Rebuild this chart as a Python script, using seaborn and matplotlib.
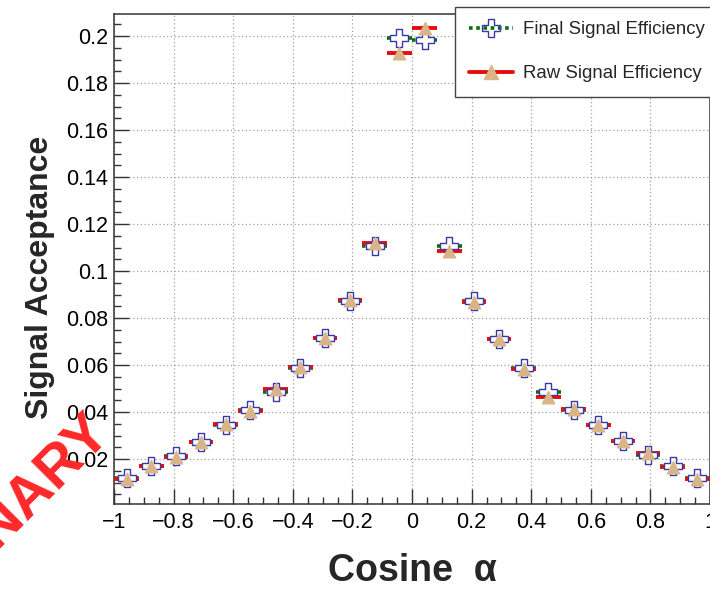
import numpy as np
import pandas as pd
import matplotlib
matplotlib.use("Agg")
import matplotlib.pyplot as plt
from matplotlib.ticker import MultipleLocator, FuncFormatter
from matplotlib.lines import Line2D
import seaborn as sns

# ---------------- data ----------------
cos_alpha = [-0.958, -0.875, -0.792, -0.708, -0.625, -0.542, -0.458, -0.375,
             -0.292, -0.208, -0.125, -0.042, 0.042, 0.125, 0.208, 0.292,
             0.375, 0.458, 0.542, 0.625, 0.708, 0.792, 0.875, 0.958]
final_eff = [0.0119, 0.0172, 0.0214, 0.0272, 0.0345, 0.0409, 0.0484, 0.0589,
             0.0713, 0.0874, 0.1105, 0.1990, 0.1985, 0.1108, 0.0874, 0.0711,
             0.0589, 0.0484, 0.0409, 0.0345, 0.0275, 0.0217, 0.0172, 0.0118]
raw_eff = [0.0114, 0.0172, 0.0207, 0.0271, 0.0348, 0.0404, 0.0497, 0.0593,
           0.0716, 0.0877, 0.1121, 0.1930, 0.2035, 0.1087, 0.0870, 0.0712,
           0.0583, 0.0462, 0.0411, 0.0346, 0.0277, 0.0224, 0.0167, 0.0114]
bin_half_width = 1.0 / 24
series_labels = ["Final Signal Efficiency", "Raw Signal Efficiency"]
x_label = "Cosine  α"
y_label = "Signal Acceptance"
watermark = "PRELIMINARY"

df = pd.DataFrame({"cos": cos_alpha, "final": final_eff, "raw": raw_eff})

# ---------------- style ----------------
sns.set_theme(style="white")
plt.rcParams["font.family"] = ["Liberation Sans", "DejaVu Sans"]
plt.rcParams["axes.unicode_minus"] = True

W, H = 710, 590
fig = plt.figure(figsize=(W / 100, H / 100), dpi=100)
ax = fig.add_axes([114 / W, 1 - 504 / H, (710 - 114) / W, (504 - 14) / H])

c_final = "#3a3aa6"
c_green = "#0b6e0b"
c_red = "#e60d0d"
c_tan = "#d8b488"

# error bars (final: green dotted, raw: red solid)
ebf = ax.errorbar(df["cos"], df["final"], xerr=bin_half_width, fmt="none",
                  ecolor=c_green, elinewidth=2.6, capsize=0, zorder=3)
for lc in ebf[2]:
    lc.set_linestyle((0, (1, 1)))
ebr = ax.errorbar(df["cos"], df["raw"], xerr=bin_half_width, fmt="none",
                  ecolor=c_red, elinewidth=2.8, capsize=0, zorder=4)

# markers
sns.scatterplot(data=df, x="cos", y="final", marker="P", s=175,
                facecolor="white", edgecolor=c_final, linewidth=1.0,
                ax=ax, zorder=5, legend=False)
sns.scatterplot(data=df, x="cos", y="raw", marker="^", s=90,
                color=c_tan, edgecolor=c_tan, linewidth=0.5,
                ax=ax, zorder=6, legend=False)

# axes
ax.set_xlim(-1, 1)
ax.set_ylim(0.00085, 0.2094)
ax.xaxis.set_major_locator(MultipleLocator(0.2))
ax.xaxis.set_minor_locator(MultipleLocator(0.05))
ax.yaxis.set_major_locator(MultipleLocator(0.02))
ax.yaxis.set_minor_locator(MultipleLocator(0.005))


def fmt(v, _):
    v = round(v, 6)
    if abs(v) < 1e-9:
        return "0"
    return f"{v:g}".replace("-", "\u2212")


ax.xaxis.set_major_formatter(FuncFormatter(fmt))
ax.yaxis.set_major_formatter(FuncFormatter(fmt))
ax.tick_params(which="both", direction="in", bottom=True, left=True,
               top=False, right=False, colors="#333333", labelcolor="black")
ax.tick_params(which="major", length=11, width=1.0, labelsize=15.5)
ax.tick_params(which="minor", length=5, width=1.0)
ax.tick_params(axis="y", which="major", pad=4)
ax.tick_params(axis="x", which="major", pad=6)

ax.grid(True, which="major", linestyle=(0, (1, 2)), color="#a0a0a0", linewidth=0.9)
for s in ax.spines.values():
    s.set_color("#333333")
    s.set_linewidth(1.1)

ax.set_xlabel(x_label, fontsize=27, fontweight="bold", va="center")
ax.xaxis.set_label_coords(0.5, (504 - 571) / 490)
ax.set_ylabel(y_label, fontsize=23, fontweight="bold", va="center")
ax.yaxis.set_label_coords((40 - 114) / 596, 0.463)

# legend
handles = [
    Line2D([0], [0], color=c_green, linestyle=(0, (1, 1)), linewidth=2.6,
           marker="P", markersize=13, markerfacecolor="none",
           markeredgecolor=c_final, markeredgewidth=1.0),
    Line2D([0], [0], color=c_red, linestyle="-", linewidth=2.8,
           marker="^", markersize=10, markerfacecolor=c_tan,
           markeredgecolor=c_tan),
]
leg = fig.legend(handles, series_labels, loc="upper left",
                 bbox_to_anchor=(455 / W, 1 - 7 / H), frameon=True,
                 fancybox=False, framealpha=1, edgecolor="#444444",
                 fontsize=13.4, handlelength=2.34, handletextpad=0.55,
                 labelspacing=1.46, borderpad=0.76, borderaxespad=0)
leg.get_frame().set_linewidth(1.0)
leg.set_zorder(20)

# watermark
fig.text(112 / W, 1 - 433 / H, watermark, rotation=45, rotation_mode="anchor",
         ha="right", va="baseline", color="#ff2828", fontsize=42,
         fontweight="bold", zorder=30)

fig.savefig("out.png", dpi=100)
